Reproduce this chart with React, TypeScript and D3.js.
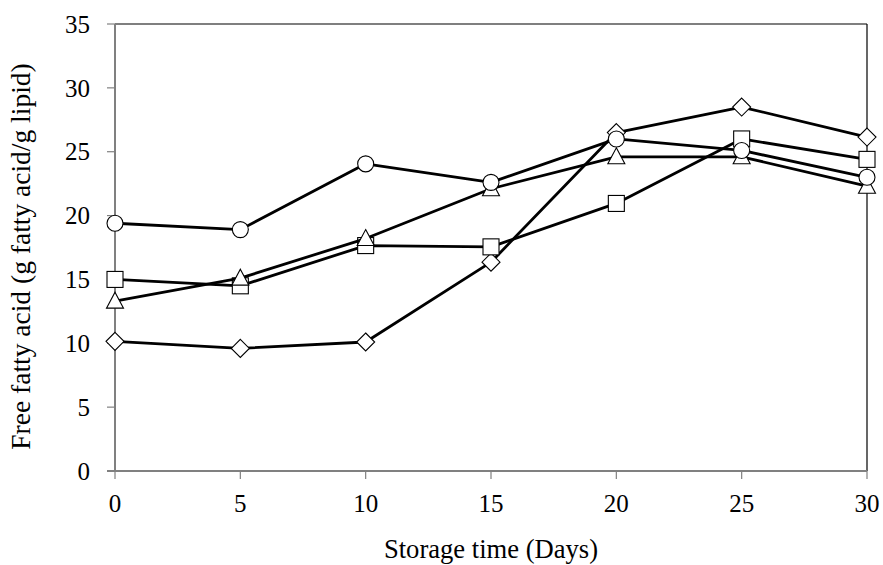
import React from "react";
import * as d3 from "d3";

const days = [0, 5, 10, 15, 20, 25, 30];
const circleSeries = [19.4, 18.9, 24.05, 22.6, 26.0, 25.1, 23.0];
const squareSeries = [15.0, 14.5, 17.65, 17.55, 20.95, 26.0, 24.4];
const triangleSeries = [13.3, 15.1, 18.2, 22.1, 24.6, 24.6, 22.3];
const diamondSeries = [10.15, 9.6, 10.1, 16.35, 26.5, 28.5, 26.15];
const yTicks = [0, 5, 10, 15, 20, 25, 30, 35];
const xTicks = [0, 5, 10, 15, 20, 25, 30];

type Shape = "circle" | "square" | "triangle" | "diamond";

// drawn back to front
const seriesList: { name: Shape; values: number[] }[] = [
  { name: "diamond", values: diamondSeries },
  { name: "square", values: squareSeries },
  { name: "triangle", values: triangleSeries },
  { name: "circle", values: circleSeries },
];

const W = 883;
const H = 565;
const left = 115;
const right = 867;
const top = 24;
const bottom = 471;

export default function App() {
  const x = d3.scaleLinear().domain([0, 30]).range([left, right]);
  const y = d3.scaleLinear().domain([0, 35]).range([bottom, top]);
  const line = d3
    .line<number>()
    .x((_, i) => x(days[i]))
    .y((d) => y(d));

  const marker = (shape: Shape, cx: number, cy: number, key: string) => {
    const common = { fill: "#fff", stroke: "#000", strokeWidth: 1.1 };
    if (shape === "circle") return <circle key={key} cx={cx} cy={cy} r={8} {...common} />;
    if (shape === "square")
      return <rect key={key} x={cx - 8} y={cy - 8} width={16} height={16} {...common} />;
    if (shape === "triangle")
      return (
        <path key={key} d={`M${cx},${cy - 9}L${cx + 8.5},${cy + 7}L${cx - 8.5},${cy + 7}Z`} {...common} />
      );
    return (
      <path key={key} d={`M${cx},${cy - 9}L${cx + 9},${cy}L${cx},${cy + 9}L${cx - 9},${cy}Z`} {...common} />
    );
  };

  return (
    <svg
      width={W}
      height={H}
      style={{ position: "absolute", left: 0, top: 0, background: "#fff" }}
      fontFamily="'Liberation Serif', 'Times New Roman', serif"
    >
      {/* frame: top and right edges */}
      <line x1={left} y1={top} x2={right} y2={top} stroke="#000" strokeWidth={1.2} />
      <line x1={right} y1={top} x2={right} y2={bottom} stroke="#000" strokeWidth={1.2} />

      {/* y axis */}
      <line x1={left} y1={top} x2={left} y2={bottom} stroke="#808080" strokeWidth={2} />
      {yTicks.map((t) => (
        <g key={`y${t}`}>
          <line x1={left - 8} y1={y(t)} x2={left} y2={y(t)} stroke="#808080" strokeWidth={1.2} />
          <text x={90} y={y(t)} dy="0.35em" textAnchor="end" fontSize={25}>
            {t}
          </text>
        </g>
      ))}

      {/* x axis */}
      <line x1={left - 8} y1={bottom} x2={right} y2={bottom} stroke="#808080" strokeWidth={2} />
      {xTicks.map((t) => (
        <g key={`x${t}`}>
          <line x1={x(t)} y1={bottom} x2={x(t)} y2={bottom + 8} stroke="#808080" strokeWidth={1.2} />
          <text x={x(t)} y={512} textAnchor="middle" fontSize={25}>
            {t}
          </text>
        </g>
      ))}

      <text x={491} y={558} textAnchor="middle" fontSize={26.6}>
        Storage time (Days)
      </text>
      <text transform="translate(30, 256.5) rotate(-90)" textAnchor="middle" fontSize={27.5}>
        Free fatty acid (g fatty acid/g lipid)
      </text>

      {seriesList.map((s) => (
        <g key={s.name}>
          <path d={line(s.values) ?? ""} fill="none" stroke="#000" strokeWidth={2.8} strokeLinejoin="round" />
          {s.values.map((v, i) => marker(s.name, x(days[i]), y(v), `${s.name}${i}`))}
        </g>
      ))}
    </svg>
  );
}
